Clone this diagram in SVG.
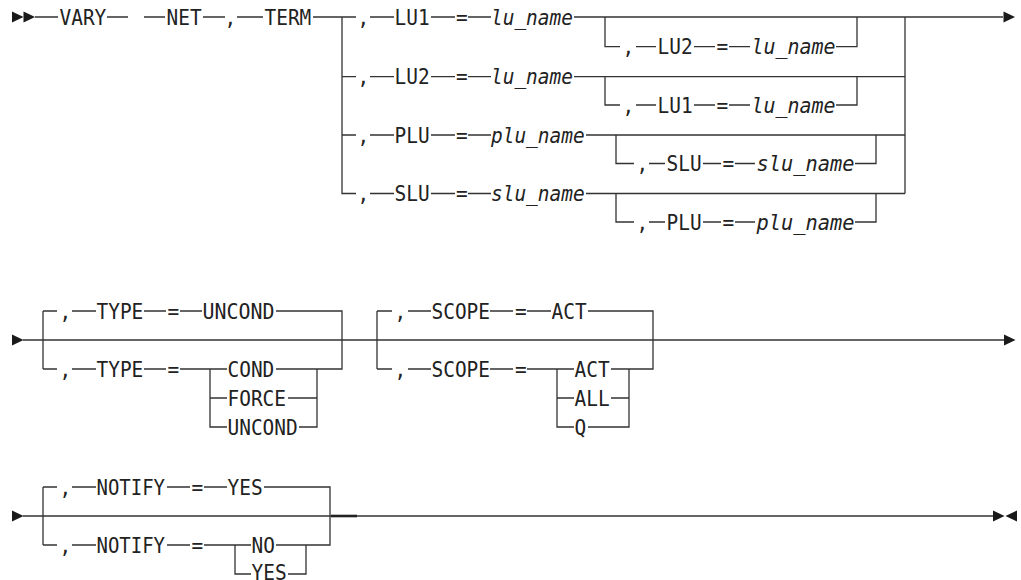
<svg xmlns="http://www.w3.org/2000/svg" xmlns:xlink="http://www.w3.org/1999/xlink" width="1021" height="580" viewBox="0 0 1021 580">
<style>
.t{font-family:"DejaVu Sans Mono","Liberation Mono",monospace;font-size:21px;fill:#222}
.i{font-style:italic}
.l{fill:none;stroke:#333;stroke-width:1.3}
.a{fill:#1a1a1a}
</style>
<defs>
<path id="ar" d="M0,-5.5 L11.5,0 L0,5.5Z"/>
</defs>
<rect width="1021" height="580" fill="#fff"/>
<g id="connectors" class="l">
<path d="M35,17H58M107,17H128M144,17H165M203,17H225M237,17H263M313,17H356M370,17H394M431,17H455M468,17H491M574,17H1003"/>
<path d="M342,17V193.5H356M342,76.7H356M342,135H356"/>
<path d="M370,76.7H394M431,76.7H455M468,76.7H491M574,76.7H905"/>
<path d="M370,135H394M431,135H455M468,135H491M586,135H905"/>
<path d="M370,193.5H394M431,193.5H455M468,193.5H491M586,193.5H905"/>
<path d="M905,17V193.5"/>
<path d="M605,17V46.7H620M636,46.7H656M694,46.7H715M729,46.7H750M836,46.7H857V17"/>
<path d="M605,76.7V105H620M636,105H656M694,105H715M729,105H750M836,105H857V76.7"/>
<path d="M616,135V163.5H634M649,163.5H665M703,163.5H721M735,163.5H755M855,163.5H876V135"/>
<path d="M616,193.5V222H634M649,222H665M703,222H721M735,222H755M855,222H876V193.5"/>
<path d="M23,340H1004"/>
<path d="M43,311V369M43,311H57M43,369H57M72,311H96M144,311H166M180,311H202M276,311H342V369H317M72,369H96M144,369H166M180,369H227M210,369V427H227M210,398H227M276,369H317V427H299M288,398H317"/>
<path d="M377,311V369M377,311H392M377,369H392M408,311H431M490,311H513M527,311H551M588,311H653V369H629M408,369H431M490,369H513M527,369H574M557,369V427H574M557,398H574M611,369H629V427H588M611,398H629"/>
<path d="M23,516H993"/>
<path d="M331,516H357" stroke-width="2.6" stroke="#222"/>
<path d="M43,487V545M43,487H57M43,545H57M72,487H96M167,487H190M204,487H227M264,487H330V545H306M72,545H96M167,545H190M204,545H251M235,545V574H251M276,545H306V574H288"/>
</g>
<g id="arrows" class="a">
<use xlink:href="#ar" x="12" y="17"/>
<use xlink:href="#ar" x="23.5" y="17"/>
<use xlink:href="#ar" x="1003.5" y="17"/>
<use xlink:href="#ar" x="12" y="340"/>
<use xlink:href="#ar" x="1004" y="340"/>
<use xlink:href="#ar" x="12" y="516"/>
<use xlink:href="#ar" x="993" y="516"/>
<path d="M1017,510.5L1005.5,516L1017,521.5Z"/>
</g>
<g id="n-vary" class="t"><text x="59.5" y="24.5" textLength="46.8" lengthAdjust="spacingAndGlyphs">VARY</text></g>
<g id="n-net" class="t"><text x="166.5" y="24.5" textLength="35.1" lengthAdjust="spacingAndGlyphs">NET</text><text x="224.5" y="24.5" textLength="11.7" lengthAdjust="spacingAndGlyphs">,</text><text x="264.5" y="24.5" textLength="46.8" lengthAdjust="spacingAndGlyphs">TERM</text></g>
<g id="n-lu1" class="t"><text x="357.5" y="24.5" textLength="11.7" lengthAdjust="spacingAndGlyphs">,</text><text x="394.5" y="24.5" textLength="35.1" lengthAdjust="spacingAndGlyphs">LU1</text><text x="456" y="24.5" textLength="11.7" lengthAdjust="spacingAndGlyphs">=</text><text class="i" x="491" y="24.5" textLength="81.9" lengthAdjust="spacingAndGlyphs">lu_name</text></g>
<g id="n-lu1-lu2" class="t"><text x="622.5" y="54.2" textLength="11.7" lengthAdjust="spacingAndGlyphs">,</text><text x="657.5" y="54.2" textLength="35.1" lengthAdjust="spacingAndGlyphs">LU2</text><text x="716.5" y="54.2" textLength="11.7" lengthAdjust="spacingAndGlyphs">=</text><text class="i" x="751.5" y="54.2" textLength="84" lengthAdjust="spacingAndGlyphs">lu_name</text></g>
<g id="n-lu2" class="t"><text x="357.5" y="84.2" textLength="11.7" lengthAdjust="spacingAndGlyphs">,</text><text x="394.5" y="84.2" textLength="35.1" lengthAdjust="spacingAndGlyphs">LU2</text><text x="456" y="84.2" textLength="11.7" lengthAdjust="spacingAndGlyphs">=</text><text class="i" x="491" y="84.2" textLength="81.9" lengthAdjust="spacingAndGlyphs">lu_name</text></g>
<g id="n-lu2-lu1" class="t"><text x="622.5" y="112.5" textLength="11.7" lengthAdjust="spacingAndGlyphs">,</text><text x="657.5" y="112.5" textLength="35.1" lengthAdjust="spacingAndGlyphs">LU1</text><text x="716.5" y="112.5" textLength="11.7" lengthAdjust="spacingAndGlyphs">=</text><text class="i" x="751.5" y="112.5" textLength="84" lengthAdjust="spacingAndGlyphs">lu_name</text></g>
<g id="n-plu" class="t"><text x="357.5" y="142.5" textLength="11.7" lengthAdjust="spacingAndGlyphs">,</text><text x="394.5" y="142.5" textLength="35.1" lengthAdjust="spacingAndGlyphs">PLU</text><text x="456" y="142.5" textLength="11.7" lengthAdjust="spacingAndGlyphs">=</text><text class="i" x="491" y="142.5" textLength="93.6" lengthAdjust="spacingAndGlyphs">plu_name</text></g>
<g id="n-plu-slu" class="t"><text x="636.5" y="171" textLength="11.7" lengthAdjust="spacingAndGlyphs">,</text><text x="666.5" y="171" textLength="35.1" lengthAdjust="spacingAndGlyphs">SLU</text><text x="722.5" y="171" textLength="11.7" lengthAdjust="spacingAndGlyphs">=</text><text class="i" x="756.5" y="171" textLength="98" lengthAdjust="spacingAndGlyphs">slu_name</text></g>
<g id="n-slu" class="t"><text x="357.5" y="201" textLength="11.7" lengthAdjust="spacingAndGlyphs">,</text><text x="394.5" y="201" textLength="35.1" lengthAdjust="spacingAndGlyphs">SLU</text><text x="456" y="201" textLength="11.7" lengthAdjust="spacingAndGlyphs">=</text><text class="i" x="491" y="201" textLength="93.6" lengthAdjust="spacingAndGlyphs">slu_name</text></g>
<g id="n-slu-plu" class="t"><text x="636.5" y="229.5" textLength="11.7" lengthAdjust="spacingAndGlyphs">,</text><text x="666.5" y="229.5" textLength="35.1" lengthAdjust="spacingAndGlyphs">PLU</text><text x="722.5" y="229.5" textLength="11.7" lengthAdjust="spacingAndGlyphs">=</text><text class="i" x="756.5" y="229.5" textLength="98" lengthAdjust="spacingAndGlyphs">plu_name</text></g>
<g id="n-type-default" class="t"><text x="59.5" y="318.5" textLength="11.7" lengthAdjust="spacingAndGlyphs">,</text><text x="96.5" y="318.5" textLength="46.8" lengthAdjust="spacingAndGlyphs">TYPE</text><text x="167.5" y="318.5" textLength="11.7" lengthAdjust="spacingAndGlyphs">=</text><text x="202.5" y="318.5" textLength="72" lengthAdjust="spacingAndGlyphs">UNCOND</text></g>
<g id="n-type" class="t"><text x="59.5" y="376.5" textLength="11.7" lengthAdjust="spacingAndGlyphs">,</text><text x="96.5" y="376.5" textLength="46.8" lengthAdjust="spacingAndGlyphs">TYPE</text><text x="167.5" y="376.5" textLength="11.7" lengthAdjust="spacingAndGlyphs">=</text><text x="227.5" y="376.5" textLength="46.8" lengthAdjust="spacingAndGlyphs">COND</text><text x="227.5" y="405.5" textLength="58.5" lengthAdjust="spacingAndGlyphs">FORCE</text><text x="227.5" y="434.5" textLength="70.2" lengthAdjust="spacingAndGlyphs">UNCOND</text></g>
<g id="n-scope-default" class="t"><text x="394.5" y="318.5" textLength="11.7" lengthAdjust="spacingAndGlyphs">,</text><text x="431.5" y="318.5" textLength="58.5" lengthAdjust="spacingAndGlyphs">SCOPE</text><text x="515" y="318.5" textLength="11.7" lengthAdjust="spacingAndGlyphs">=</text><text x="551.5" y="318.5" textLength="35.1" lengthAdjust="spacingAndGlyphs">ACT</text></g>
<g id="n-scope" class="t"><text x="394.5" y="376.5" textLength="11.7" lengthAdjust="spacingAndGlyphs">,</text><text x="431.5" y="376.5" textLength="58.5" lengthAdjust="spacingAndGlyphs">SCOPE</text><text x="515" y="376.5" textLength="11.7" lengthAdjust="spacingAndGlyphs">=</text><text x="574.5" y="376.5" textLength="35.1" lengthAdjust="spacingAndGlyphs">ACT</text><text x="574.5" y="405.5" textLength="35.1" lengthAdjust="spacingAndGlyphs">ALL</text><text x="574.5" y="434.5" textLength="11.7" lengthAdjust="spacingAndGlyphs">Q</text></g>
<g id="n-notify-default" class="t"><text x="59.5" y="494.5" textLength="11.7" lengthAdjust="spacingAndGlyphs">,</text><text x="96.5" y="494.5" textLength="68.5" lengthAdjust="spacingAndGlyphs">NOTIFY</text><text x="191.5" y="494.5" textLength="11.7" lengthAdjust="spacingAndGlyphs">=</text><text x="227.5" y="494.5" textLength="35.1" lengthAdjust="spacingAndGlyphs">YES</text></g>
<g id="n-notify" class="t"><text x="59.5" y="552.5" textLength="11.7" lengthAdjust="spacingAndGlyphs">,</text><text x="96.5" y="552.5" textLength="68.5" lengthAdjust="spacingAndGlyphs">NOTIFY</text><text x="191.5" y="552.5" textLength="11.7" lengthAdjust="spacingAndGlyphs">=</text><text x="251.5" y="552.5" textLength="23.4" lengthAdjust="spacingAndGlyphs">NO</text><text x="251.5" y="580" textLength="35.1" lengthAdjust="spacingAndGlyphs">YES</text></g>
</svg>
